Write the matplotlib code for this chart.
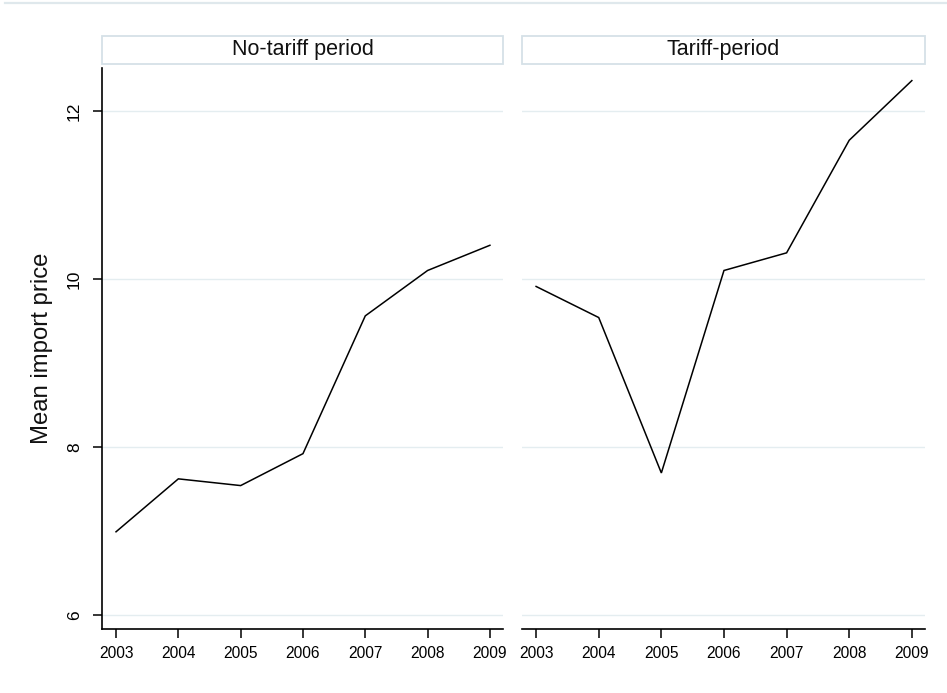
import matplotlib
matplotlib.use("Agg")
import matplotlib.pyplot as plt
from matplotlib.patches import Rectangle
from matplotlib.lines import Line2D

plt.rcParams["font.family"] = ["Liberation Sans", "DejaVu Sans"]

# Mean import price by year, split by period
years = [2003, 2004, 2005, 2006, 2007, 2008, 2009]
no_tariff_price = [6.99, 7.62, 7.54, 7.92, 9.56, 10.10, 10.40]
tariff_price = [9.91, 9.54, 7.69, 10.10, 10.31, 11.65, 12.36]
panel_titles = ["No-tariff period", "Tariff-period"]
y_ticks = [6, 8, 10, 12]
y_label = "Mean import price"

W, H = 947, 693
fig = plt.figure(figsize=(W / 100, H / 100), dpi=100)
fig.patch.set_facecolor("white")

def fx(px):
    return px / W

def fy(py):
    return 1 - py / H

top, bottom = 68, 629
panels = [(102, 503), (522, 925)]
series = [no_tariff_price, tariff_price]
grid_color = "#e4edf0"
box_color = "#d5e1e7"

# thin rule across the top of the graph region
fig.add_artist(Line2D([fx(5), fx(947)], [fy(2.5), fy(2.5)], color="#dfe8ec", lw=1.6))

axes = []
for i, ((x0, x1), vals, title) in enumerate(zip(panels, series, panel_titles)):
    ax = fig.add_axes([fx(x0), fy(bottom), fx(x1 - x0), (bottom - top) / H])
    ax.set_facecolor("white")
    ax.plot(years, vals, color="black", lw=1.1, solid_joinstyle="miter")
    ax.set_xlim(2002.775, 2009.21)
    ax.set_ylim(5.833, 12.51)
    ax.set_xticks(years)
    ax.set_xticklabels([str(y) for y in years])
    ax.set_yticks(y_ticks)
    ax.grid(axis="y", color=grid_color, lw=1.0)
    ax.set_axisbelow(True)
    for s in ["top", "right"]:
        ax.spines[s].set_visible(False)
    ax.spines["bottom"].set_linewidth(1.2)
    ax.spines["left"].set_linewidth(1.2)
    ax.tick_params(axis="x", length=6.5, width=1.1, pad=6, labelsize=11.2)
    if i == 0:
        ax.tick_params(axis="y", length=6.5, width=1.1, pad=8, labelsize=12.5,
                       labelrotation=90)
        for lab in ax.get_yticklabels():
            lab.set_va("center")
    else:
        ax.spines["left"].set_visible(False)
        ax.tick_params(axis="y", left=False, labelleft=False)

    # panel title strip
    h = bottom - top
    ax.add_patch(Rectangle((0, 1 + 4 / h), 1, 28 / h, transform=ax.transAxes,
                           facecolor="white", edgecolor=box_color, lw=1.3,
                           clip_on=False))
    ax.text(0.5, 1 + 18 / h, title, transform=ax.transAxes, ha="center",
            va="center", fontsize=15.5, color="#111111")
    axes.append(ax)

fig.text(fx(42), fy(348), y_label, rotation=90, ha="center", va="center",
         fontsize=17.2, color="#111111")

fig.savefig("out.png", dpi=100, facecolor="white")
